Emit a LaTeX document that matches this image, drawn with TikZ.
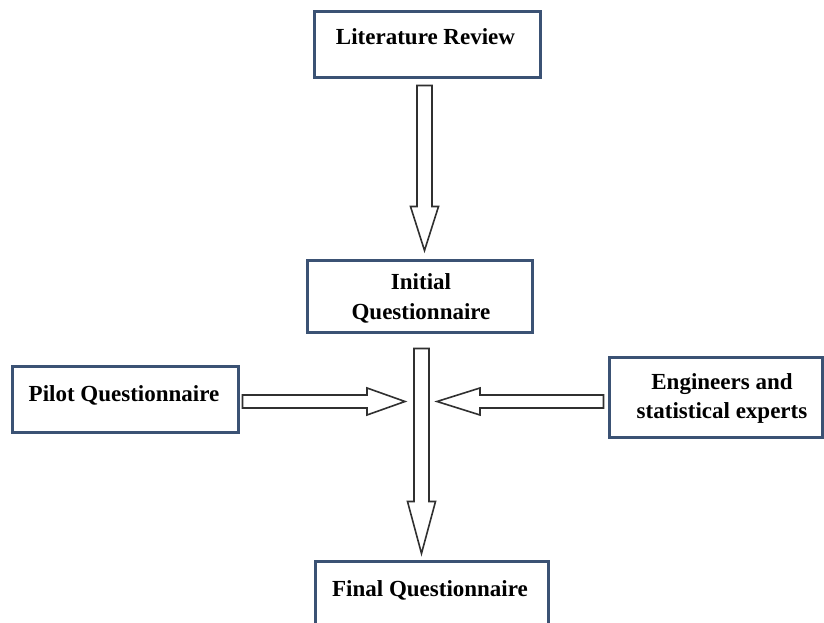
\documentclass[tikz,border=0pt]{standalone}
\usepackage{fontspec}
\setmainfont{Liberation Serif}
\usetikzlibrary{calc}
\definecolor{boxblue}{HTML}{3B5274}
\definecolor{arrgray}{HTML}{303030}
\tikzset{
  box/.style={draw=boxblue, line width=3pt, fill=white, rectangle, inner sep=0pt},
  lbl/.style={anchor=base, inner sep=0pt, font=\fontsize{23}{28}\selectfont\bfseries},
  barrow/.style={draw=arrgray, line width=1.6pt, fill=white, line join=miter},
}
% vertical (downward) block arrow: #1 start, #2 tip, #3 head length
\newcommand\vblockarrow[3]{%
  \draw[barrow] let \p1=(#1), \p2=(#2) in
  (\x1-7.5pt,\y1) -- (\x1+7.5pt,\y1) -- (\x1+7.5pt,\y2+#3) -- (\x1+14pt,\y2+#3)
  -- (\x1,\y2) -- (\x1-14pt,\y2+#3) -- (\x1-7.5pt,\y2+#3) -- cycle;}
% rightward block arrow
\newcommand\rblockarrow[3]{%
  \draw[barrow] let \p1=(#1), \p2=(#2) in
  (\x1,\y1+6.5pt) -- (\x2-#3,\y1+6.5pt) -- (\x2-#3,\y1+13.5pt) -- (\x2,\y1)
  -- (\x2-#3,\y1-13.5pt) -- (\x2-#3,\y1-6.5pt) -- (\x1,\y1-6.5pt) -- cycle;}
% leftward block arrow
\newcommand\lblockarrow[3]{%
  \draw[barrow] let \p1=(#1), \p2=(#2) in
  (\x1,\y1+6.5pt) -- (\x2+#3,\y1+6.5pt) -- (\x2+#3,\y1+13.5pt) -- (\x2,\y1)
  -- (\x2+#3,\y1-13.5pt) -- (\x2+#3,\y1-6.5pt) -- (\x1,\y1-6.5pt) -- cycle;}
\begin{document}
\begin{tikzpicture}[x=1pt,y=1pt]
\useasboundingbox (0,0) rectangle (824,623);
\fill[white] (0,0) rectangle (824,623);

% boxes
\node[box, minimum width=226pt, minimum height=66pt] (lit) at (427,578) {};
\node[box, minimum width=225pt, minimum height=72pt] (init) at (419.5,326) {};
\node[box, minimum width=226pt, minimum height=66pt] (pilot) at (125,223) {};
\node[box, minimum width=213pt, minimum height=80pt] (eng) at (715.5,225) {};
\node[box, minimum width=233pt, minimum height=83pt] (final) at (431.5,19.5) {};

% labels
\node[lbl] (litT) at (425.5,578) {Literature Review};
\node[lbl] (initT1) at (421,333) {Initial};
\node[lbl] (initT2) at (421,303) {Questionnaire};
\node[lbl] (pilotT) at (124,221) {Pilot Questionnaire};
\node[lbl] (engT1) at (722,233) {Engineers and};
\node[lbl] (engT2) at (722,204) {statistical experts};
\node[lbl] (finalT) at (430,26) {Final Questionnaire};

% connector end points
\coordinate (a1s) at ($(lit.south)+(-2.5,-6)$);
\coordinate (a1e) at ($(init.north)+(5,9)$);
\coordinate (a2s) at ($(init.south)+(2,-14)$);
\coordinate (a2e) at ($(final.north)+(-10,7)$);
\coordinate (a3s) at ($(pilot.east)+(3,-1.5)$);
\coordinate (j1) at (405,221.5);
\coordinate (a4s) at ($(eng.west)+(-4,-3.5)$);
\coordinate (j2) at (437,221.5);

% connectors
\vblockarrow{a1s}{a1e}{44pt}
\vblockarrow{a2s}{a2e}{52pt}
\rblockarrow{a3s}{j1}{38pt}
\lblockarrow{a4s}{j2}{43pt}
\end{tikzpicture}
\end{document}
